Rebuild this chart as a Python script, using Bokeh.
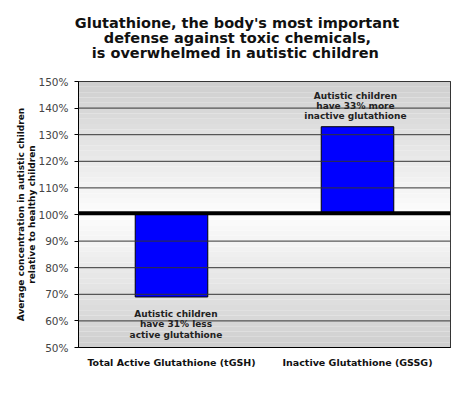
from bokeh.plotting import figure
from bokeh.models import Range1d, Label, FixedTicker, Span, Title
from bokeh.embed import file_html
from bokeh.resources import INLINE

categories = ["Total Active Glutathione (tGSH)", "Inactive Glutathione (GSSG)"]
values = [69, 133]
baseline = 100
notes = [["Autistic children", "have 31% less", "active glutathione"],
         ["Autistic children", "have 33% more", "inactive glutathione"]]
y_ticks = [50, 60, 70, 80, 90, 100, 110, 120, 130, 140, 150]
y_tick_labels = [f"{t}%" for t in y_ticks]
title_lines = ["Glutathione, the body's most important",
               "defense against toxic chemicals,",
               "is overwhelmed in autistic children"]
ylabel_lines = ["Average concentration in autistic children",
                "relative to healthy children"]

FONT = "DejaVu Sans"

p = figure(width=470, height=400, output_backend="svg", toolbar_location=None,
           x_range=Range1d(0, 2), y_range=Range1d(50, 150),
           min_border_left=78, min_border_right=20, min_border_top=81, min_border_bottom=53)
p.background_fill_color = "white"
p.border_fill_color = "white"
p.outline_line_color = "black"
p.outline_line_width = 1
p.xgrid.visible = False
p.ygrid.visible = False


def style_title(t, off, so):
    t.align = "left"
    t.offset = off
    t.standoff = so
    t.text_font = FONT
    t.text_font_style = "bold"
    t.text_font_size = "14.5px"
    t.text_color = "#111111"
    t.text_line_height = 1.0


# title: first line is the main (outermost) title; added titles stack outward from the plot
p.title.text = title_lines[0]
style_title(p.title, -3.7, -3)
spacer = Title(text=" ")
style_title(spacer, 0, 3.5)
p.add_layout(spacer, "above")
t3 = Title(text=title_lines[2])
style_title(t3, 13.3, -3)
p.add_layout(t3, "above")
t2 = Title(text=title_lines[1])
style_title(t2, 25.3, -3)
p.add_layout(t2, "above")

# gradient background (style)
n = 50
for i in range(n):
    y0 = 50 + i * 100 / n
    y1 = y0 + 100 / n
    tt = abs((y0 + y1) / 2 - 100) / 50
    g = int(round(253 - tt * (253 - 206)))
    col = "#%02x%02x%02x" % (g, g, g)
    p.quad(left=0, right=2, bottom=y0, top=y1, fill_color=col, line_color=None)

# gridlines
for t in y_ticks[1:-1]:
    p.add_layout(Span(location=t, dimension="width", line_color="#333333", line_width=1))

xs = [0.5, 1.5]
p.vbar(x=xs, width=0.39, bottom=[min(v, baseline) for v in values],
       top=[max(v, baseline) for v in values], fill_color="#0000ff", line_color="black", line_width=1)

p.add_layout(Span(location=baseline + 0.5, dimension="width", line_color="black", line_width=4))

# axes
p.yaxis.ticker = FixedTicker(ticks=y_ticks)
p.yaxis.major_label_overrides = {t: l for t, l in zip(y_ticks, y_tick_labels)}
p.yaxis.major_label_text_font = FONT
p.yaxis.major_label_text_font_size = "10.5px"
p.yaxis.major_label_text_color = "#444444"
p.yaxis.minor_tick_line_color = None
p.yaxis.major_tick_out = 4
p.yaxis.major_tick_in = 0
p.yaxis.major_label_standoff = 6
p.yaxis.axis_line_color = "black"
p.yaxis.axis_label = "\n".join(ylabel_lines)
p.yaxis.axis_label_text_font = FONT
p.yaxis.axis_label_text_font_style = "bold"
p.yaxis.axis_label_text_font_size = "9px"
p.yaxis.axis_label_text_color = "#111111"
p.yaxis.axis_label_text_line_height = 1.15
p.yaxis.axis_label_standoff = -2

p.xaxis.ticker = FixedTicker(ticks=xs)
p.xaxis.major_label_overrides = {x: c for x, c in zip(xs, categories)}
p.xaxis.major_label_text_font = FONT
p.xaxis.major_label_text_font_style = "bold"
p.xaxis.major_label_text_font_size = "9.5px"
p.xaxis.major_label_text_color = "#111111"
p.xaxis.major_tick_out = 0
p.xaxis.major_tick_in = 0
p.xaxis.minor_tick_line_color = None
p.xaxis.major_label_standoff = 9
p.xaxis.axis_line_color = "black"

# annotations
ann_pos = [(0.524, [62.7, 58.9, 54.8]), (1.489, [144.6, 140.8, 137.1])]
for (xv, ys), lines in zip(ann_pos, notes):
    for yv, line in zip(ys, lines):
        p.add_layout(Label(x=xv, y=yv, text=line, text_align="center", text_baseline="middle",
                           text_font=FONT, text_font_style="bold", text_font_size="9px",
                           text_color="#222222"))

open("out.html", "w").write(file_html(p, INLINE))
